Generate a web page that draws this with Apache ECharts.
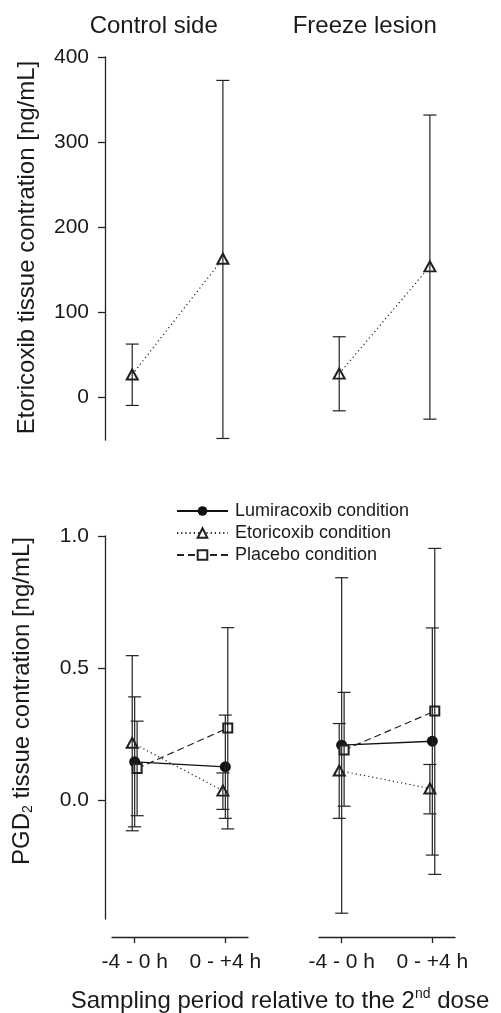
<!DOCTYPE html>
<html>
<head>
<meta charset="utf-8">
<script src="https://cdn.jsdelivr.net/npm/echarts@6/dist/echarts.min.js"></script>
<style>
html, body { margin: 0; padding: 0; background: #fff; }
#main { width: 501px; height: 1013px; }
</style>
</head>
<body>
<div id="main"></div>
<script>
// sampling periods (x categories)
var periods = ['-4 - 0 h', '0 - +4 h'];
var periodX = [0, 1];
var topTicks = [0, 100, 200, 300, 400];
var bottomTicks = [0, 0.5, 1.0];

// etoricoxib tissue concentration, top panels
var etoCtrlMean = [27, 163];
var etoCtrlLow = [-9.4, -48.2];
var etoCtrlHigh = [62.7, 372.5];
var etoFrzMean = [28, 154];
var etoFrzLow = [-15.7, -25.5];
var etoFrzHigh = [71.3, 331.8];

// PGD2 tissue concentration, control side
var lumiCtrlMean = [0.145, 0.126];
var lumiCtrlLow = [-0.101, -0.069];
var lumiCtrlHigh = [0.391, 0.322];
var etoPgdCtrlMean = [0.217, 0.036];
var etoPgdCtrlLow = [-0.116, -0.035];
var etoPgdCtrlHigh = [0.547, 0.103];
var placCtrlMean = [0.12, 0.273];
var placCtrlLow = [-0.059, -0.109];
var placCtrlHigh = [0.299, 0.653];

// PGD2 tissue concentration, freeze lesion
var lumiFrzMean = [0.208, 0.223];
var lumiFrzLow = [-0.428, -0.208];
var lumiFrzHigh = [0.842, 0.652];
var etoPgdFrzMean = [0.112, 0.044];
var etoPgdFrzLow = [-0.069, -0.052];
var etoPgdFrzHigh = [0.29, 0.135];
var placFrzMean = [0.19, 0.337];
var placFrzLow = [-0.023, -0.281];
var placFrzHigh = [0.408, 0.953];

var LUMI = 'Lumiracoxib condition';
var ETO = 'Etoricoxib condition';
var PLAC = 'Placebo condition';
var ink = '#222';
var txt = '#1a1a1a';
var font = '"Liberation Sans", Arial, Helvetica, sans-serif';

// small horizontal dodge so the bars do not sit on top of each other
var dodge = { eto: -0.027, lumi: 0, plac: 0.027 };

function points(mean, dx) {
	return mean.map(function(m, i) { return [periodX[i] + dx, m]; });
}
function bars(low, high, dx) {
	return low.map(function(l, i) { return [periodX[i] + dx, l, high[i]]; });
}

function errorBar(params, api) {
	var x = api.value(0);
	var lo = api.coord([x, api.value(1)]);
	var hi = api.coord([x, api.value(2)]);
	var w = 6.5;
	var st = { stroke: ink, lineWidth: 1.2 };
	return {
		type: 'group',
		children: [
			{ type: 'line', shape: { x1: lo[0], y1: lo[1], x2: hi[0], y2: hi[1] }, style: st },
			{ type: 'line', shape: { x1: lo[0] - w, y1: lo[1], x2: lo[0] + w, y2: lo[1] }, style: st },
			{ type: 'line', shape: { x1: hi[0] - w, y1: hi[1], x2: hi[0] + w, y2: hi[1] }, style: st }
		]
	};
}

function lineSeries(name, grid, mean, kind) {
	var s = {
		name: name,
		type: 'line',
		xAxisIndex: grid,
		yAxisIndex: grid,
		data: points(mean, dodge[kind]),
		z: 3,
		animation: false
	};
	if (kind == 'lumi') {
		s.symbol = 'circle';
		s.symbolSize = 11;
		s.itemStyle = { color: '#111' };
		s.lineStyle = { color: '#111', width: 1.3, type: 'solid' };
	} else if (kind == 'eto') {
		s.symbol = 'emptyTriangle';
		s.symbolSize = [11, 10];
		s.itemStyle = { color: ink, borderColor: ink, borderWidth: 1.1 };
		s.lineStyle = { color: ink, width: 1.2, type: [1.2, 3] };
	} else {
		s.symbol = 'emptyRect';
		s.symbolSize = 9;
		s.itemStyle = { color: ink, borderColor: ink, borderWidth: 1.1 };
		s.lineStyle = { color: ink, width: 1.2, type: [7, 4] };
	}
	return s;
}

function barSeries(grid, low, high, kind) {
	return {
		type: 'custom',
		xAxisIndex: grid,
		yAxisIndex: grid,
		renderItem: errorBar,
		data: bars(low, high, dodge[kind]),
		encode: { x: 0, y: [1, 2] },
		clip: false,
		z: 4,
		silent: true,
		animation: false
	};
}

function xAxisOf(grid, show) {
	return {
		gridIndex: grid,
		type: 'value',
		min: -0.25,
		max: 1.25,
		show: show,
		offset: 18,
		axisLine: { show: true, onZero: false, lineStyle: { color: ink, width: 1.3 } },
		axisTick: { show: true, length: 6, customValues: periodX, lineStyle: { color: ink, width: 1.3 } },
		axisLabel: {
			customValues: periodX,
			margin: 15,
			fontSize: 21,
			color: txt,
			fontFamily: font,
			formatter: function(v) { return periods[periodX.indexOf(v)]; }
		},
		splitLine: { show: false }
	};
}

function yAxisOf(grid, show, min, max, ticks, fmt) {
	return {
		gridIndex: grid,
		type: 'value',
		min: min,
		max: max,
		show: show,
		offset: 7,
		axisLine: { show: true, onZero: false, lineStyle: { color: ink, width: 1.3 } },
		axisTick: { show: true, length: 7, customValues: ticks, lineStyle: { color: ink, width: 1.3 } },
		axisLabel: { customValues: ticks, margin: 16, fontSize: 21, color: txt, fontFamily: font, formatter: fmt },
		splitLine: { show: false }
	};
}

var myChart = echarts.init(document.getElementById('main'));
var option = {
	backgroundColor: '#fff',
	animation: false,
	textStyle: { fontFamily: font, color: txt },
	grid: [
		{ left: 112, top: 57, width: 136, height: 383 },
		{ left: 319, top: 57, width: 136, height: 383 },
		{ left: 112, top: 536, width: 136, height: 383 },
		{ left: 319, top: 536, width: 136, height: 383 }
	],
	xAxis: [xAxisOf(0, false), xAxisOf(1, false), xAxisOf(2, true), xAxisOf(3, true)],
	yAxis: [
		yAxisOf(0, true, -50, 400, topTicks, function(v) { return String(v); }),
		yAxisOf(1, false, -50, 400, topTicks, null),
		yAxisOf(2, true, -0.45, 1, bottomTicks, function(v) { return v.toFixed(1); }),
		yAxisOf(3, false, -0.45, 1, bottomTicks, null)
	],
	legend: {
		data: [LUMI, ETO, PLAC],
		orient: 'vertical',
		left: 171,
		top: 497,
		itemWidth: 51,
		itemHeight: 12,
		itemGap: 4,
		selectedMode: false,
		textStyle: { fontSize: 18, color: txt, fontFamily: font, padding: [0, 0, 0, 2] }
	},
	graphic: [
		{ type: 'text', x: 153.7, y: 26, style: { text: 'Control side', font: '24px ' + font, fill: txt, align: 'center', verticalAlign: 'middle' } },
		{ type: 'text', x: 364.7, y: 26, style: { text: 'Freeze lesion', font: '24px ' + font, fill: txt, align: 'center', verticalAlign: 'middle' } },
		{ type: 'text', x: 27.5, y: 247.5, rotation: Math.PI / 2, style: { text: 'Etoricoxib tissue contration [ng/mL]', font: '24px ' + font, fill: txt, align: 'center', verticalAlign: 'middle' } },
		{
			type: 'text', x: 22.5, y: 701, rotation: Math.PI / 2,
			style: {
				text: 'PGD{sub|2} tissue contration [ng/mL]',
				fontSize: 24, fontFamily: font, fill: txt, align: 'center', verticalAlign: 'middle',
				rich: { sub: { fontSize: 14, fontFamily: font, fill: txt, padding: [12, 0, 0, 0] } }
			}
		},
		{
			type: 'text', x: 280, y: 1001,
			style: {
				text: 'Sampling period relative to the 2{sup|nd} dose',
				fontSize: 24, fontFamily: font, fill: txt, align: 'center', verticalAlign: 'middle',
				rich: { sup: { fontSize: 14, fontFamily: font, fill: txt, padding: [0, 0, 13, 0] } }
			}
		}
	],
	series: [
		lineSeries(ETO, 0, etoCtrlMean, 'eto'),
		barSeries(0, etoCtrlLow, etoCtrlHigh, 'eto'),
		lineSeries(ETO, 1, etoFrzMean, 'eto'),
		barSeries(1, etoFrzLow, etoFrzHigh, 'eto'),

		lineSeries(LUMI, 2, lumiCtrlMean, 'lumi'),
		lineSeries(ETO, 2, etoPgdCtrlMean, 'eto'),
		lineSeries(PLAC, 2, placCtrlMean, 'plac'),
		barSeries(2, lumiCtrlLow, lumiCtrlHigh, 'lumi'),
		barSeries(2, etoPgdCtrlLow, etoPgdCtrlHigh, 'eto'),
		barSeries(2, placCtrlLow, placCtrlHigh, 'plac'),

		lineSeries(LUMI, 3, lumiFrzMean, 'lumi'),
		lineSeries(ETO, 3, etoPgdFrzMean, 'eto'),
		lineSeries(PLAC, 3, placFrzMean, 'plac'),
		barSeries(3, lumiFrzLow, lumiFrzHigh, 'lumi'),
		barSeries(3, etoPgdFrzLow, etoPgdFrzHigh, 'eto'),
		barSeries(3, placFrzLow, placFrzHigh, 'plac')
	]
};
myChart.setOption(option);
</script>
</body>
</html>
